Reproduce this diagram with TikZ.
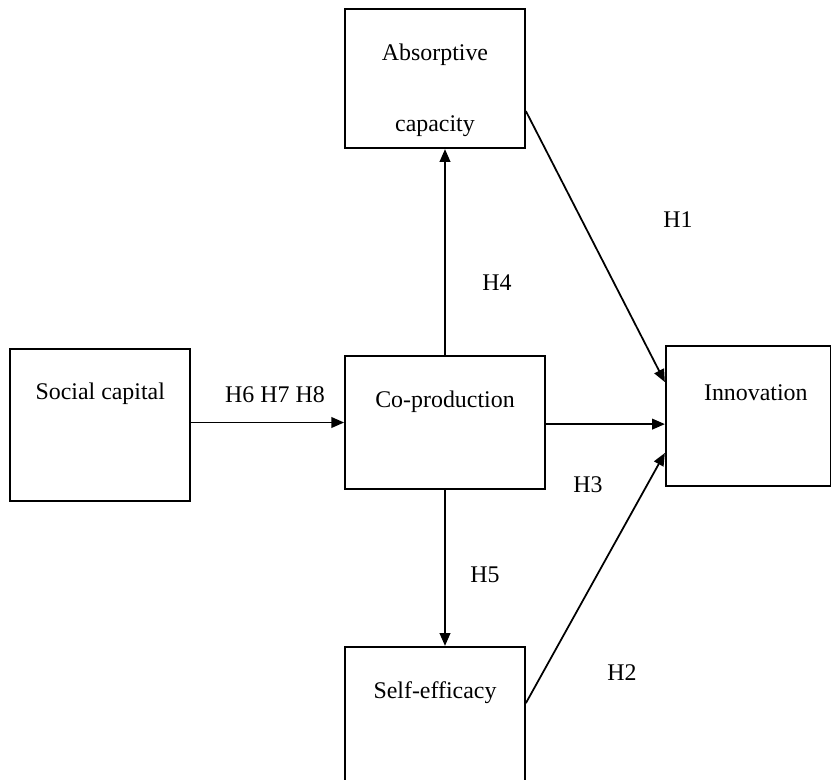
\documentclass[tikz,border=0pt]{standalone}
\usepackage{fontspec}
\setmainfont{Liberation Serif}
\usetikzlibrary{arrows.meta,positioning,calc}

\begin{document}
\begin{tikzpicture}[
    >={Triangle[length=9pt,width=7.5pt]},
    every node/.style={font=\fontsize{17}{20.4}\selectfont},
    box/.style={
        draw,
        line width=1.25pt,
        inner sep=0pt
    },
    txt/.style={inner sep=0pt, align=center},
    hyp/.style={inner sep=0pt},
    link/.style={->, line width=1.25pt}
]
  \useasboundingbox (0,0) rectangle (20.775,-19.475);

  % boxes
  \node[box, minimum width=5cm, minimum height=3.325cm] (coprod) at (11.125,-10.5625) {};
  \node[box, minimum width=4.5cm, minimum height=3.475cm,
  above=51.5mm of coprod, xshift=-2.5mm] (absorb) {};
  \node[box, minimum width=4.5cm, minimum height=3.625cm,
  below=39mm of coprod, xshift=-2.5mm] (selfeff) {};
  \node[box, minimum width=4.5cm, minimum height=3.8cm,
  left=38.25mm of coprod, yshift=-0.6mm] (social) {};
  \node[box, minimum width=4.125cm, minimum height=3.5cm,
  right=29.75mm of coprod, yshift=1.6mm] (innov) {};

  % box texts
  \node[txt] (coprodT) at ([yshift=-11.75mm]coprod.north) {Co-production};
  \node[txt] (absorbT) at ([yshift=-20.4mm]absorb.north) {Absorptive\\[10.55mm]capacity};
  \node[txt] (selfeffT) at ([yshift=-11.75mm]selfeff.north) {Self-efficacy};
  \node[txt] (socialT) at ([yshift=-11.5mm]social.north) {Social capital};
  \node[txt] (innovT) at ([yshift=-11.75mm,xshift=1.9mm]innov.north) {Innovation};

  % hypotheses
  \node[hyp] (h1) at (16.95,-5.5) {H1};
  \node[hyp] (h2) at (15.55,-16.825) {H2};
  \node[hyp] (h3) at (14.7,-12.125) {H3};
  \node[hyp] (h4) at (12.425,-7.075) {H4};
  \node[hyp] (h5) at (12.125,-14.375) {H5};
  \node[hyp] (h678) at (6.875,-9.875) {H6 H7 H8};

  \draw[link] (social.east |- coprod.west) -- (coprod.west);
  \draw[link] (coprod.north) -- (coprod.north |- absorb.south);
  \draw[link] (coprod.south) -- (coprod.south |- selfeff.north);
  \draw[link] ([yshift=-0.4mm]coprod.east) -- ([yshift=-0.4mm]coprod.east -| innov.west);
  \draw[link] ($(absorb.north east)!0.73!(absorb.south east)$)
    -- ($(innov.north west)!0.26!(innov.south west)$);
  \draw[link] ($(selfeff.north east)!0.39!(selfeff.south east)$)
    -- ($(innov.north west)!0.76!(innov.south west)$);
\end{tikzpicture}
\end{document}
